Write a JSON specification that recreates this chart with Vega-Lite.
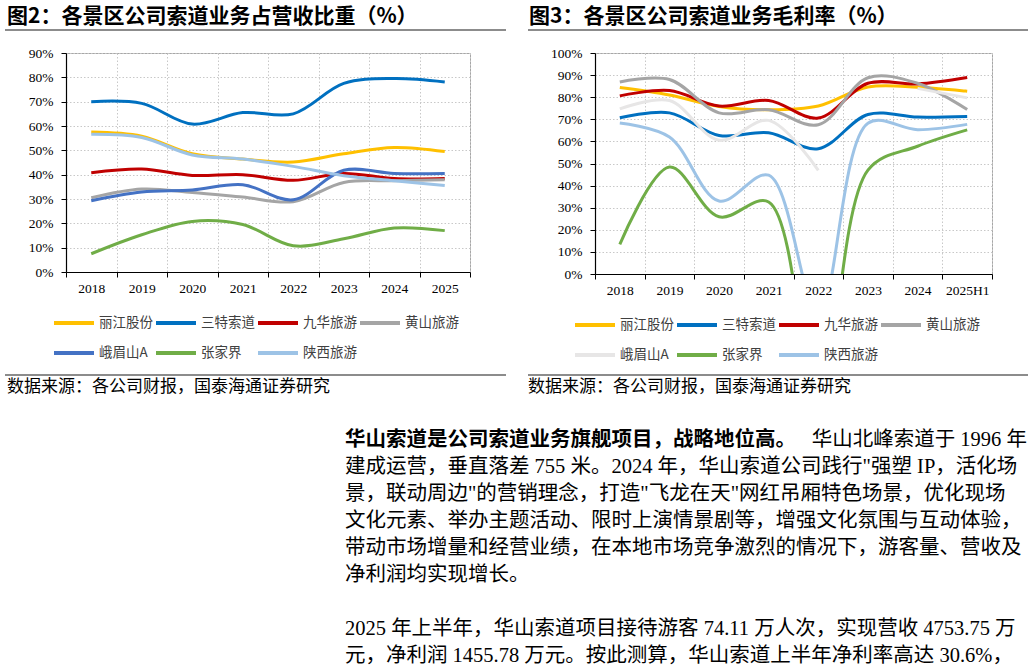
{
  "$schema": "https://vega.github.io/schema/vega-lite/v6.json",
  "padding": 0,
  "autosize": {"type": "pad"},
  "background": "white",
  "config": {
    "view": {"stroke": null},
    "font": "Noto Sans CJK SC",
    "axis": {
      "labelFont": "Liberation Serif",
      "labelFontSize": 13.5,
      "labelColor": "#000",
      "domainColor": "#000",
      "domainWidth": 1.2,
      "tickColor": "#000",
      "tickSize": 5,
      "gridColor": "#c8c8c8",
      "gridDash": [1.5, 2],
      "gridWidth": 1,
      "title": null
    },
    "legend": {
      "orient": "none",
      "direction": "horizontal",
      "columns": 4,
      "title": null,
      "symbolType": "stroke",
      "symbolSize": 1600,
      "symbolStrokeWidth": 4,
      "labelFont": "Noto Sans CJK SC",
      "labelFontSize": 13.5,
      "labelColor": "#404040",
      "labelOffset": 3,
      "columnPadding": -5,
      "rowPadding": -3,
      "gridAlign": "all",
      "padding": 0
    }
  },
  "datasets": {
    "share": [
      {"series": "丽江股份", "year": "2018", "value": 57.5},
      {"series": "丽江股份", "year": "2019", "value": 55.8},
      {"series": "丽江股份", "year": "2020", "value": 48.6},
      {"series": "丽江股份", "year": "2021", "value": 46.4},
      {"series": "丽江股份", "year": "2022", "value": 45.2},
      {"series": "丽江股份", "year": "2023", "value": 48.6},
      {"series": "丽江股份", "year": "2024", "value": 51.2},
      {"series": "丽江股份", "year": "2025", "value": 49.5},
      {"series": "三特索道", "year": "2018", "value": 70.0},
      {"series": "三特索道", "year": "2019", "value": 69.3},
      {"series": "三特索道", "year": "2020", "value": 60.8},
      {"series": "三特索道", "year": "2021", "value": 65.5},
      {"series": "三特索道", "year": "2022", "value": 65.0},
      {"series": "三特索道", "year": "2023", "value": 77.5},
      {"series": "三特索道", "year": "2024", "value": 79.5},
      {"series": "三特索道", "year": "2025", "value": 78.1},
      {"series": "九华旅游", "year": "2018", "value": 40.8},
      {"series": "九华旅游", "year": "2019", "value": 42.3},
      {"series": "九华旅游", "year": "2020", "value": 39.7},
      {"series": "九华旅游", "year": "2021", "value": 40.0},
      {"series": "九华旅游", "year": "2022", "value": 37.7},
      {"series": "九华旅游", "year": "2023", "value": 40.5},
      {"series": "九华旅游", "year": "2024", "value": 38.4},
      {"series": "九华旅游", "year": "2025", "value": 38.4},
      {"series": "黄山旅游", "year": "2018", "value": 30.5},
      {"series": "黄山旅游", "year": "2019", "value": 34.1},
      {"series": "黄山旅游", "year": "2020", "value": 32.7},
      {"series": "黄山旅游", "year": "2021", "value": 30.8},
      {"series": "黄山旅游", "year": "2022", "value": 28.9},
      {"series": "黄山旅游", "year": "2023", "value": 36.8},
      {"series": "黄山旅游", "year": "2024", "value": 37.5},
      {"series": "黄山旅游", "year": "2025", "value": 37.9},
      {"series": "峨眉山A", "year": "2018", "value": 29.3},
      {"series": "峨眉山A", "year": "2019", "value": 32.9},
      {"series": "峨眉山A", "year": "2020", "value": 33.7},
      {"series": "峨眉山A", "year": "2021", "value": 35.9},
      {"series": "峨眉山A", "year": "2022", "value": 29.7},
      {"series": "峨眉山A", "year": "2023", "value": 41.8},
      {"series": "峨眉山A", "year": "2024", "value": 40.5},
      {"series": "峨眉山A", "year": "2025", "value": 40.5},
      {"series": "张家界", "year": "2018", "value": 7.5},
      {"series": "张家界", "year": "2019", "value": 15.3},
      {"series": "张家界", "year": "2020", "value": 20.8},
      {"series": "张家界", "year": "2021", "value": 19.5},
      {"series": "张家界", "year": "2022", "value": 10.8},
      {"series": "张家界", "year": "2023", "value": 13.7},
      {"series": "张家界", "year": "2024", "value": 18.1},
      {"series": "张家界", "year": "2025", "value": 17.0},
      {"series": "陕西旅游", "year": "2018", "value": 56.6},
      {"series": "陕西旅游", "year": "2019", "value": 55.3},
      {"series": "陕西旅游", "year": "2020", "value": 48.1},
      {"series": "陕西旅游", "year": "2021", "value": 46.4},
      {"series": "陕西旅游", "year": "2022", "value": 43.4},
      {"series": "陕西旅游", "year": "2023", "value": 39.6},
      {"series": "陕西旅游", "year": "2024", "value": 37.5},
      {"series": "陕西旅游", "year": "2025", "value": 35.5}
    ],
    "margin": [
      {"series": "丽江股份", "year": "2018", "value": 84.4},
      {"series": "丽江股份", "year": "2019", "value": 81.0},
      {"series": "丽江股份", "year": "2020", "value": 75.8},
      {"series": "丽江股份", "year": "2021", "value": 74.3},
      {"series": "丽江股份", "year": "2022", "value": 76.0},
      {"series": "丽江股份", "year": "2023", "value": 84.6},
      {"series": "丽江股份", "year": "2024", "value": 84.5},
      {"series": "丽江股份", "year": "2025H1", "value": 82.7},
      {"series": "三特索道", "year": "2018", "value": 70.7},
      {"series": "三特索道", "year": "2019", "value": 72.9},
      {"series": "三特索道", "year": "2020", "value": 62.7},
      {"series": "三特索道", "year": "2021", "value": 63.9},
      {"series": "三特索道", "year": "2022", "value": 56.7},
      {"series": "三特索道", "year": "2023", "value": 72.2},
      {"series": "三特索道", "year": "2024", "value": 71.0},
      {"series": "三特索道", "year": "2025H1", "value": 71.3},
      {"series": "九华旅游", "year": "2018", "value": 80.6},
      {"series": "九华旅游", "year": "2019", "value": 83.0},
      {"series": "九华旅游", "year": "2020", "value": 76.0},
      {"series": "九华旅游", "year": "2021", "value": 78.5},
      {"series": "九华旅游", "year": "2022", "value": 70.6},
      {"series": "九华旅游", "year": "2023", "value": 86.3},
      {"series": "九华旅游", "year": "2024", "value": 86.0},
      {"series": "九华旅游", "year": "2025H1", "value": 88.9},
      {"series": "黄山旅游", "year": "2018", "value": 86.9},
      {"series": "黄山旅游", "year": "2019", "value": 88.0},
      {"series": "黄山旅游", "year": "2020", "value": 72.9},
      {"series": "黄山旅游", "year": "2021", "value": 74.3},
      {"series": "黄山旅游", "year": "2022", "value": 67.5},
      {"series": "黄山旅游", "year": "2023", "value": 88.8},
      {"series": "黄山旅游", "year": "2024", "value": 86.3},
      {"series": "黄山旅游", "year": "2025H1", "value": 74.4},
      {"series": "峨眉山A", "year": "2018", "value": 74.7},
      {"series": "峨眉山A", "year": "2019", "value": 78.5},
      {"series": "峨眉山A", "year": "2020", "value": 60.5},
      {"series": "峨眉山A", "year": "2021", "value": 69.5},
      {"series": "峨眉山A", "year": "2022", "value": 46.9},
      {"series": "峨眉山A", "year": "2023", "value": null},
      {"series": "峨眉山A", "year": "2024", "value": 84.0},
      {"series": "峨眉山A", "year": "2025H1", "value": 79.7},
      {"series": "张家界", "year": "2018", "value": 13.4},
      {"series": "张家界", "year": "2019", "value": 48.4},
      {"series": "张家界", "year": "2020", "value": 25.9},
      {"series": "张家界", "year": "2021", "value": 32.6},
      {"series": "张家界", "year": "2022", "value": -60.0},
      {"series": "张家界", "year": "2023", "value": 47.0},
      {"series": "张家界", "year": "2024", "value": 57.8},
      {"series": "张家界", "year": "2025H1", "value": 65.2},
      {"series": "陕西旅游", "year": "2018", "value": 68.3},
      {"series": "陕西旅游", "year": "2019", "value": 62.0},
      {"series": "陕西旅游", "year": "2020", "value": 33.0},
      {"series": "陕西旅游", "year": "2021", "value": 44.7},
      {"series": "陕西旅游", "year": "2022", "value": -18.0},
      {"series": "陕西旅游", "year": "2023", "value": 68.2},
      {"series": "陕西旅游", "year": "2024", "value": 65.3},
      {"series": "陕西旅游", "year": "2025H1", "value": 67.7}
    ],
    "para": [
      {"line": 1, "part": "lead", "text": "华山索道是公司索道业务旗舰项目，战略地位高。"},
      {"line": 1, "part": "tail", "text": "华山北峰索道于 1996 年"},
      {"line": 2, "part": "body", "text": "建成运营，垂直落差 755 米。2024 年，华山索道公司践行\"强塑 IP，活化场"},
      {"line": 3, "part": "body", "text": "景，联动周边\"的营销理念，打造\"飞龙在天\"网红吊厢特色场景，优化现场"},
      {"line": 4, "part": "body", "text": "文化元素、举办主题活动、限时上演情景剧等，增强文化氛围与互动体验，"},
      {"line": 5, "part": "body", "text": "带动市场增量和经营业绩，在本地市场竞争激烈的情况下，游客量、营收及"},
      {"line": 6, "part": "body", "text": "净利润均实现增长。"},
      {"line": 8, "part": "body", "text": "2025 年上半年，华山索道项目接待游客 74.11 万人次，实现营收 4753.75 万"},
      {"line": 9, "part": "body", "text": "元，净利润 1455.78 万元。按此测算，华山索道上半年净利率高达 30.6%，"}
    ]
  },
  "bounds": "flush",
  "spacing": 0,
  "vconcat": [
    {"width": 1032, "height": 29, "data": {"values": []}, "mark": "point", "view": {"fill": "white", "stroke": null}},
    {
      "bounds": "flush",
      "spacing": 0,
      "hconcat": [
        {"width": 5, "height": 2, "data": {"values": []}, "mark": "point"},
        {
          "width": 501, "height": 2, "data": {"values": []}, "mark": "point",
          "view": {"fill": "#8c8c8c", "stroke": null},
          "title": {"text": "图2：各景区公司索道业务占营收比重（%）", "orient": "top", "anchor": "start", "frame": "group", "offset": 2, "dx": 2, "font": "Noto Sans CJK SC", "fontSize": 21, "fontWeight": "bold", "color": "#000"}
        },
        {"width": 22, "height": 2, "data": {"values": []}, "mark": "point"},
        {
          "width": 500, "height": 2, "data": {"values": []}, "mark": "point",
          "view": {"fill": "#8c8c8c", "stroke": null},
          "title": {"text": "图3：各景区公司索道业务毛利率（%）", "orient": "top", "anchor": "start", "frame": "group", "offset": 2, "dx": 1, "font": "Noto Sans CJK SC", "fontSize": 21, "fontWeight": "bold", "color": "#000"}
        }
      ]
    },
    {"width": 1032, "height": 24, "data": {"values": []}, "mark": "point"},
    {
      "bounds": "flush",
      "spacing": 0,
      "resolve": {"scale": {"color": "independent"}},
      "hconcat": [
        {"width": 66, "height": 221, "data": {"values": []}, "mark": "point"},
        {
          "width": 404, "height": 219,
          "data": {"name": "share"},
          "view": {"stroke": "#a6a6a6", "strokeWidth": 1},
          "mark": {"type": "line", "interpolate": "catmull-rom", "strokeWidth": 3, "clip": true},
          "encoding": {
            "x": {
              "field": "year", "type": "ordinal", "sort": null, "bandPosition": 0.5,
              "scale": {"type": "band", "paddingInner": 0, "paddingOuter": 0},
              "axis": {"tickBand": "extent", "labelAngle": 0, "labelPadding": 4, "grid": true}
            },
            "y": {
              "field": "value", "type": "quantitative",
              "scale": {"domain": [0, 90], "nice": false},
              "axis": {"values": [0, 10, 20, 30, 40, 50, 60, 70, 80, 90], "labelExpr": "datum.value + '%'", "labelPadding": 8, "grid": true}
            },
            "color": {
              "field": "series", "type": "nominal",
              "scale": {
                "domain": ["丽江股份", "三特索道", "九华旅游", "黄山旅游", "峨眉山A", "张家界", "陕西旅游"],
                "range": ["#FFC000", "#0070C0", "#C00000", "#A5A5A5", "#4472C4", "#70AD47", "#9DC3E6"]
              },
              "legend": {"legendX": -14, "legendY": 248}
            }
          }
        },
        {"width": 125, "height": 221, "data": {"values": []}, "mark": "point"},
        {
          "width": 397, "height": 221,
          "data": {"name": "margin"},
          "view": {"stroke": "#a6a6a6", "strokeWidth": 1},
          "mark": {"type": "line", "interpolate": "catmull-rom", "strokeWidth": 3, "clip": true, "invalid": "break-paths-filter-domains"},
          "encoding": {
            "x": {
              "field": "year", "type": "ordinal", "sort": null, "bandPosition": 0.5,
              "scale": {"type": "band", "paddingInner": 0, "paddingOuter": 0},
              "axis": {"tickBand": "extent", "labelAngle": 0, "labelPadding": 4, "grid": true}
            },
            "y": {
              "field": "value", "type": "quantitative",
              "scale": {"domain": [0, 100], "nice": false},
              "axis": {"values": [0, 10, 20, 30, 40, 50, 60, 70, 80, 90, 100], "labelExpr": "datum.value + '%'", "labelPadding": 8, "grid": true}
            },
            "color": {
              "field": "series", "type": "nominal",
              "scale": {
                "domain": ["丽江股份", "三特索道", "九华旅游", "黄山旅游", "峨眉山A", "张家界", "陕西旅游"],
                "range": ["#FFC000", "#0070C0", "#C00000", "#A5A5A5", "#E7E6E6", "#70AD47", "#9DC3E6"]
              },
              "legend": {"legendX": -22, "legendY": 250}
            }
          }
        }
      ]
    },
    {"width": 1032, "height": 321, "data": {"values": []}, "mark": "point"},
    {
      "bounds": "flush",
      "spacing": 0,
      "hconcat": [
        {"width": 5, "height": 2, "data": {"values": []}, "mark": "point"},
        {
          "width": 501, "height": 2, "data": {"values": []}, "mark": "point",
          "view": {"fill": "#8c8c8c", "stroke": null},
          "title": {"text": "数据来源：各公司财报，国泰海通证券研究", "orient": "bottom", "anchor": "start", "frame": "group", "offset": 3, "dx": 2, "font": "Noto Sans CJK SC", "fontSize": 17, "fontWeight": "normal", "color": "#000"}
        },
        {"width": 22, "height": 2, "data": {"values": []}, "mark": "point"},
        {
          "width": 500, "height": 2, "data": {"values": []}, "mark": "point",
          "view": {"fill": "#8c8c8c", "stroke": null},
          "title": {"text": "数据来源：各公司财报，国泰海通证券研究", "orient": "bottom", "anchor": "start", "frame": "group", "offset": 3, "dx": 0, "font": "Noto Sans CJK SC", "fontSize": 17, "fontWeight": "normal", "color": "#000"}
        }
      ]
    },
    {"width": 1032, "height": 52.5, "data": {"values": []}, "mark": "point"},
    {
      "bounds": "flush",
      "spacing": 0,
      "hconcat": [
        {"width": 345, "height": 242, "data": {"values": []}, "mark": "point"},
        {
          "width": 682, "height": 242,
          "data": {"name": "para"},
          "encoding": {
            "y": {"field": "line", "type": "quantitative", "scale": {"domain": [0.5, 9.5], "reverse": true}, "axis": null}
          },
          "layer": [
            {
              "transform": [{"filter": "datum.part == 'lead'"}],
              "mark": {"type": "text", "align": "left", "baseline": "middle", "font": "Noto Sans CJK SC", "fontSize": 20.5, "fontWeight": "bold", "color": "#000"},
              "encoding": {
                "x": {"datum": 0, "type": "quantitative", "scale": {"domain": [0, 1]}, "axis": null},
                "text": {"field": "text"}
              }
            },
            {
              "transform": [{"filter": "datum.part == 'tail'"}],
              "mark": {"type": "text", "align": "right", "baseline": "middle", "font": "Liberation Serif, Noto Sans CJK SC", "fontSize": 20.5, "color": "#000"},
              "encoding": {
                "x": {"datum": 1, "type": "quantitative", "scale": {"domain": [0, 1]}, "axis": null},
                "text": {"field": "text"}
              }
            },
            {
              "transform": [{"filter": "datum.part == 'body'"}],
              "mark": {"type": "text", "align": "left", "baseline": "middle", "font": "Liberation Serif, Noto Sans CJK SC", "fontSize": 20.5, "color": "#000"},
              "encoding": {
                "x": {"datum": 0, "type": "quantitative", "scale": {"domain": [0, 1]}, "axis": null},
                "text": {"field": "text"}
              }
            }
          ]
        }
      ]
    }
  ]
}
